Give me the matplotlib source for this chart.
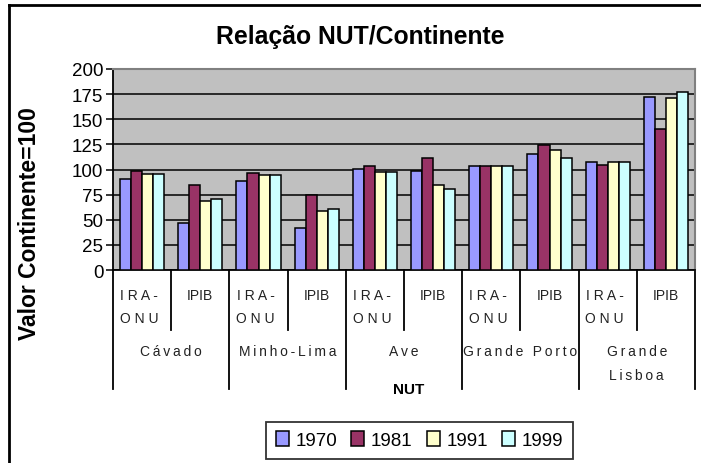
import matplotlib
matplotlib.use("Agg")
import matplotlib.pyplot as plt
from matplotlib.patches import Patch
from matplotlib.lines import Line2D

plt.rcParams['font.family'] = ['Liberation Sans', 'DejaVu Sans']

regions = ['Cávado', 'Minho-Lima', 'Ave', 'Grande Porto', 'Grande\nLisboa']
indicators = ['I R A -\nO N U', 'IPIB']
years = ['1970', '1981', '1991', '1999']
colors = ['#9999FF', '#993366', '#FFFFCC', '#CCFFFF']

# pairs per region: IRA-ONU, IPIB
v1970 = [91, 47, 89, 41.5, 100.5, 99, 103, 115, 107, 172.5]
v1981 = [99, 85, 97, 75, 103, 111, 103, 124, 104.5, 140]
v1991 = [96, 69, 95, 59, 98, 85, 103, 119, 107, 171]
v1999 = [96, 71, 95, 61, 98, 81, 103, 111, 107, 177]
series = [v1970, v1981, v1991, v1999]

W, H = 701, 464
fig = plt.figure(figsize=(W / 100, H / 100), dpi=100)
ax = fig.add_axes([113 / W, 1 - 271 / H, 582 / W, 201 / H])
ax.set_facecolor('#C0C0C0')

bw = 0.19
n = len(v1970)
for k, (vals, c) in enumerate(zip(series, colors)):
    xs = [i + 0.5 + (k - 1.5) * bw for i in range(n)]
    ax.bar(xs, vals, width=bw, color=c, edgecolor='black', linewidth=1.1, zorder=3)

ax.set_xlim(0, n)
ax.set_ylim(0, 200)
ax.set_yticks(range(0, 201, 25))
ax.grid(axis='y', color='black', linewidth=1.1, zorder=1)
ax.tick_params(axis='y', direction='out', length=5, width=1.1, labelsize=13.5, pad=2)
ax.set_xticks([])
for s in ['top', 'right']:
    ax.spines[s].set_color('#808080')
    ax.spines[s].set_linewidth(1.5)
for s in ['left', 'bottom']:
    ax.spines[s].set_color('black')
    ax.spines[s].set_linewidth(1.3)

# multi-level category axis
tr = ax.get_xaxis_transform()
def ay(py):
    return (271 - py) / 201

for i in range(n + 1):
    end = 390 if i % 2 == 0 else 331
    ax.plot([i, i], [0, ay(end)], color='black', lw=1.3, transform=tr, clip_on=False)

sp = '\u2009'
fs_cat = 10
for i in range(n):
    lab = indicators[i % 2]
    if i % 2 == 0:
        ax.text(i + 0.45, ay(296), 'I R A -', transform=tr, ha='center', va='center', fontsize=fs_cat, color='#222222')
        ax.text(i + 0.45, ay(319), 'O N U', transform=tr, ha='center', va='center', fontsize=fs_cat, color='#222222')
    else:
        ax.text(i + 0.5, ay(296), lab, transform=tr, ha='center', va='center', fontsize=fs_cat, color='#222222')

for j, r in enumerate(regions):
    lines = r.split('\n')
    for m, line in enumerate(lines):
        ax.text(2 * j + 1, ay(352 + 24 * m), sp.join(line), transform=tr, ha='center', va='center',
                fontsize=fs_cat, color='#222222')

fig.text(409 / W, 1 - 390 / H, 'NUT', ha='center', va='center', fontsize=11, fontweight='bold')
fig.text(360 / W, 1 - 37 / H, 'Relação NUT/Continente', ha='center', va='center', fontsize=17.8, fontweight='bold')
fig.text(30 / W, 1 - 224 / H, 'Valor Continente=100', ha='center', va='center', rotation=90,
         fontsize=16.5, fontweight='bold')

handles = [Patch(facecolor=c, edgecolor='black', linewidth=1.1) for c in colors]
leg = fig.legend(handles, years, loc='center', bbox_to_anchor=(419.5 / W, 1 - 441 / H), ncol=4,
                 fontsize=13.5, frameon=True, fancybox=False, handlelength=0.7, handleheight=0.9,
                 handletextpad=0.35, columnspacing=0.75, borderpad=0.5, borderaxespad=0)
leg.get_frame().set_edgecolor('black')
leg.get_frame().set_linewidth(1.3)

# outer chart border (left and top visible)
fig.add_artist(Line2D([8.5 / W, 8.5 / W], [0, 1 - 5.5 / H], color='black', lw=2))
fig.add_artist(Line2D([8.5 / W, 1], [1 - 5.5 / H, 1 - 5.5 / H], color='black', lw=2))

fig.savefig('out.png', dpi=100)
